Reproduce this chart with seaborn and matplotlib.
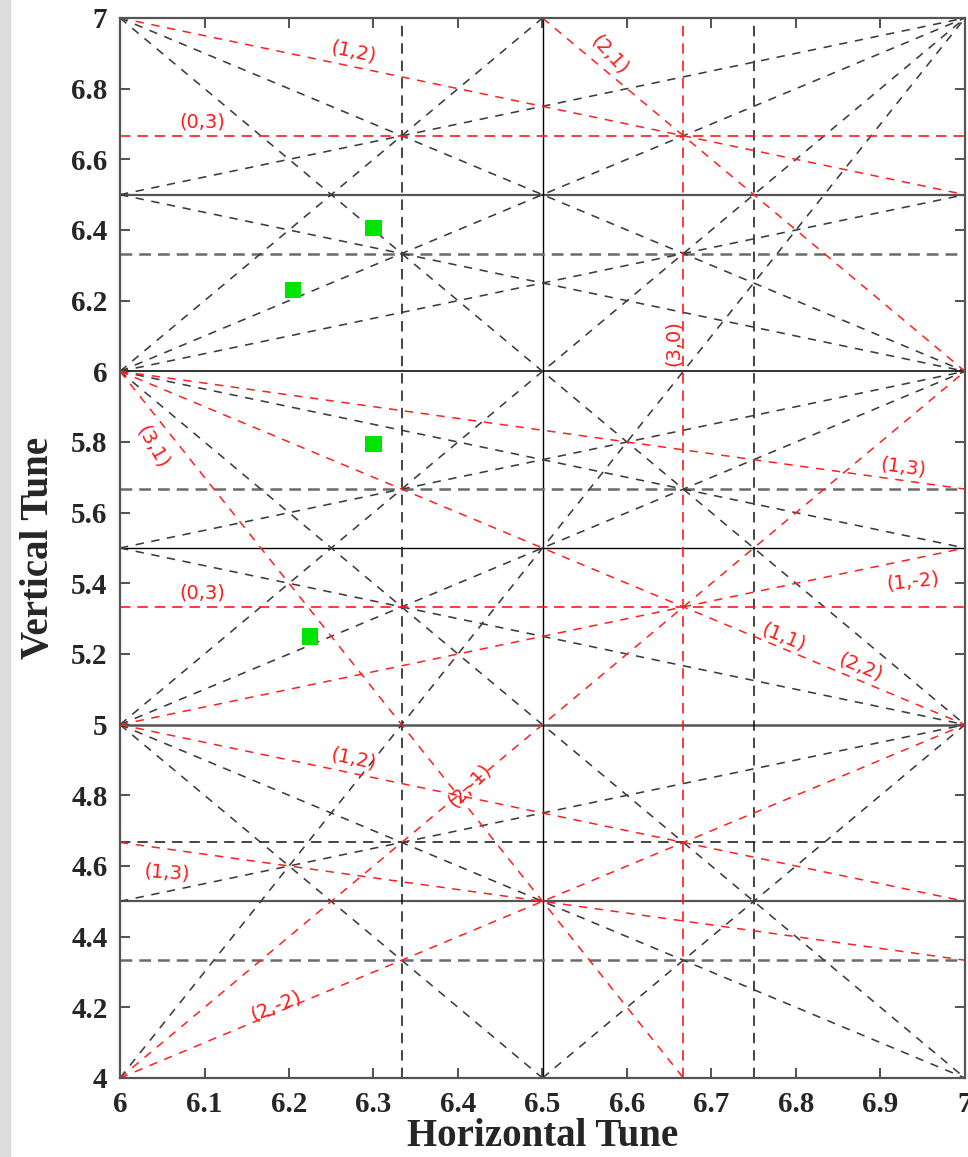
import numpy as np
import matplotlib
matplotlib.use("Agg")
import matplotlib.pyplot as plt
import seaborn as sns
from matplotlib.patches import Rectangle
from matplotlib.ticker import FuncFormatter

# tune window
qx_range = (6.0, 7.0)
qy_range = (4.0, 7.0)

# resonance lines m*Qx + n*Qy = p (drawn black/grey dashed)
black_lines = [
    (1, 1, 11), (1, 1, 13),
    (1, -1, 0), (1, -1, 1),
    (2, 1, 17), (2, 1, 18), (2, 1, 19),
    (2, -1, 6), (2, -1, 7), (2, -1, 9),
    (1, 2, 17), (1, 2, 18), (1, 2, 19),
    (1, -2, -3), (1, -2, -5), (1, -2, -6), (1, -2, -7),
    (3, -1, 14),
]
# highlighted resonances (red dashed)
red_lines = [
    (1, 2, 20), (2, 1, 20), (1, 3, 24), (1, 1, 12), (3, 1, 24),
    (1, -2, -4), (2, -1, 8), (1, 2, 16), (1, 3, 20), (1, -1, 2),
]
red_qx = [20 / 3]
red_qy = [20 / 3, 16 / 3]
black_qx = [19 / 3, 27 / 4]
grey_qy = [19 / 3, 17 / 3, 13 / 3]
black_qy = [14 / 3]
half_qx = [6.5]
half_qy = [6.5, 5.5, 4.5]
int_qy = [6.0, 5.0]

# working points
wp_qx = [6.30, 6.205, 6.30, 6.225]
wp_qy = [6.405, 6.23, 5.795, 5.25]

# resonance labels
lab_text = ["(1,2)", "(2,1)", "(0,3)", "(3,0)", "(3,1)", "(1,3)", "(1,-2)",
            "(0,3)", "(1,1)", "(2,2)", "(1,2)", "(2,-1)", "(1,3)", "(2,-2)"]
lab_qx = [6.276, 6.58, 6.098, 6.655, 6.039, 6.927, 6.939,
          6.098, 6.785, 6.876, 6.276, 6.414, 6.055, 6.185]
lab_qy = [6.905, 6.895, 6.705, 6.079, 5.785, 5.728, 5.405,
          5.374, 5.247, 5.162, 4.904, 4.827, 4.581, 4.204]
lab_rot = [-12, -48, 0, 90, -60, -8, 6, 0, -22, -22, -12, 45, -4, 22]


def clip_line(m, n, p):
    (x0, x1), (y0, y1) = qx_range, qy_range
    pts = []
    if n != 0:
        for x in (x0, x1):
            y = (p - m * x) / n
            if y0 - 1e-9 <= y <= y1 + 1e-9:
                pts.append((x, y))
    if m != 0:
        for y in (y0, y1):
            x = (p - n * y) / m
            if x0 - 1e-9 <= x <= x1 + 1e-9:
                pts.append((x, y))
    pts = sorted(set((round(a, 9), round(b, 9)) for a, b in pts))
    return pts[0], pts[-1]


sns.set_theme(style="ticks")
plt.rcParams["lines.scale_dashes"] = False
plt.rcParams["font.family"] = ["Liberation Serif", "DejaVu Serif"]

fig = plt.figure(figsize=(9.68, 11.57), dpi=100)
fig.patches.append(Rectangle((0, 0), 10 / 968, 1, transform=fig.transFigure,
                             color="#dcdcdc", zorder=0))
ax = fig.add_axes([120 / 968, 79 / 1157, 845 / 968, 1060 / 1157])

# solid half-integer and integer lines
for q in half_qy:
    ax.axhline(q, color="#555555" if q != 5.5 else "black", lw=1.6 if q != 5.5 else 1.0)
for q in int_qy:
    ax.axhline(q, color="#222222" if q == 6.0 else "#555555", lw=1.3 if q == 6.0 else 1.8)
for q in half_qx:
    ax.axvline(q, color="black", lw=1.0)

# third / fourth order straight lines
for q in grey_qy:
    ax.axhline(q, color="#6a6a6a", lw=1.8, ls=(0, (8.5, 5)))
for q in black_qy:
    ax.axhline(q, color="#111111", lw=1.1, ls=(0, (7.5, 5)))
for q in black_qx:
    ax.axvline(q, color="#111111", lw=1.1, ls=(0, (7.5, 5)))

for m, n, p in black_lines:
    (xa, ya), (xb, yb) = clip_line(m, n, p)
    ax.plot([xa, xb], [ya, yb], color="#3c3c3c", lw=1.15, ls=(0, (6, 5.5)))

for q in red_qy:
    ax.axhline(q, color="#ff1a1a", lw=1.2, ls=(0, (7.5, 5)))
for q in red_qx:
    ax.axvline(q, color="#ff1a1a", lw=1.2, ls=(0, (7.5, 5)))
for m, n, p in red_lines:
    (xa, ya), (xb, yb) = clip_line(m, n, p)
    ax.plot([xa, xb], [ya, yb], color="#ff2020", lw=1.1, ls=(0, (6, 5.5)))

sns.scatterplot(x=wp_qx, y=wp_qy, ax=ax, marker="s", s=140, color="#00e400",
                edgecolor="none", zorder=5)

for t, x, y, r in zip(lab_text, lab_qx, lab_qy, lab_rot):
    ax.text(x, y, t, color="#ff1a1a", fontsize=14, rotation=r,
            ha="center", va="center", family=["DejaVu Sans"])

ax.set_xlim(*qx_range)
ax.set_ylim(*qy_range)
ax.set_xticks(np.arange(6.0, 7.01, 0.1))
ax.set_yticks(np.arange(4.0, 7.01, 0.2))
fmt = FuncFormatter(lambda v, _: f"{v:g}")
ax.xaxis.set_major_formatter(fmt)
ax.yaxis.set_major_formatter(fmt)
ax.tick_params(direction="in", length=7, width=1.2, color="#333333",
               top=True, right=True, labelsize=21, pad=9)
for lbl in ax.get_xticklabels() + ax.get_yticklabels():
    lbl.set_fontweight("bold")
for s in ax.spines.values():
    s.set_color("#555555")
    s.set_linewidth(1.6)

ax.set_xlabel("Horizontal Tune", fontsize=28, fontweight="bold", labelpad=0)
ax.set_ylabel("Vertical Tune", fontsize=28, fontweight="bold", labelpad=10)

fig.savefig("out.png", dpi=100)
